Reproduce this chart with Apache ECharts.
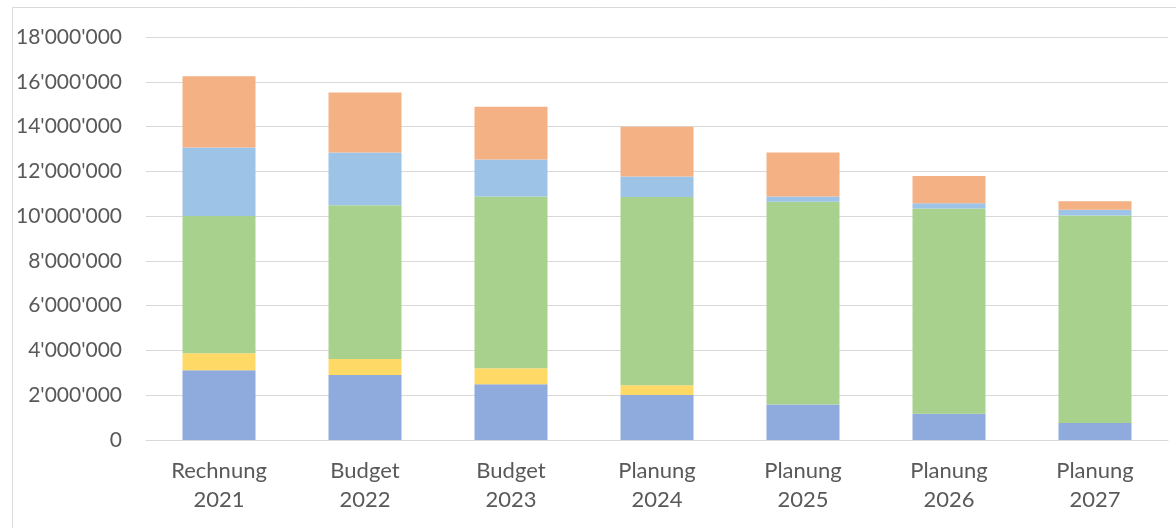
<!DOCTYPE html>
<html><head><meta charset="utf-8">
<script src="https://cdn.jsdelivr.net/npm/echarts@6/dist/echarts.min.js"></script>
<style>html,body{margin:0;padding:0;background:#fff}#c{width:1176px;height:528px}</style>
</head><body><div id="c"></div>
<script>
const categories = ['Rechnung\n2021','Budget\n2022','Budget\n2023','Planung\n2024','Planung\n2025','Planung\n2026','Planung\n2027'];
const seriesA = [3120000, 2900000, 2490000, 2010000, 1590000, 1170000, 760000];
const seriesB = [750000, 720000, 720000, 430000, 0, 0, 0];
const seriesC = [6130000, 6860000, 7670000, 8410000, 9050000, 9170000, 9270000];
const seriesD = [3070000, 2360000, 1650000, 920000, 240000, 240000, 250000];
const seriesE = [3180000, 2680000, 2350000, 2220000, 1960000, 1210000, 380000];
const colors = ['#8faadc','#ffd966','#a9d18e','#9dc3e6','#f4b183'];
const all = [seriesA, seriesB, seriesC, seriesD, seriesE];
const fmt = v => String(v).replace(/\B(?=(\d{3})+(?!\d))/g, "'");
const chart = echarts.init(document.getElementById('c'));
chart.setOption({
  animation:false,
  graphic:[{type:'rect',shape:{x:12.5,y:7.5,width:1300,height:700},style:{fill:'none',stroke:'#d9d9d9',lineWidth:1},silent:true}],
  grid:{left:146,right:8,top:37,bottom:88},
  xAxis:{type:'category',data:categories,
    axisLine:{lineStyle:{color:'#d9d9d9',width:1}},axisTick:{show:false},
    axisLabel:{color:'#595959',fontFamily:'Lato',fontSize:22,lineHeight:29,margin:16,interval:0}},
  yAxis:{type:'value',min:0,max:18000000,interval:2000000,
    axisLine:{show:false},axisTick:{show:false},
    splitLine:{lineStyle:{color:'#d9d9d9',width:1}},
    axisLabel:{color:'#595959',fontFamily:'Lato',fontSize:21,margin:24,formatter:fmt}},
  series: all.map((d,i)=>({type:'bar',stack:'s',data:d,barWidth:'50%',itemStyle:{color:colors[i]}}))
});
</script></body></html>
